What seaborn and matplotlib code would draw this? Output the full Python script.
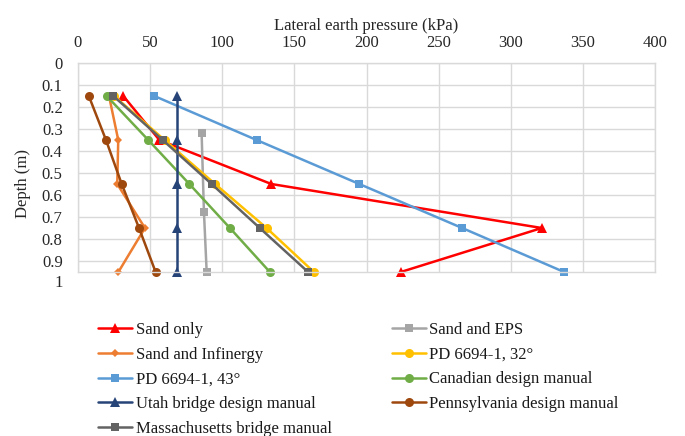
import numpy as np
import pandas as pd
import matplotlib
matplotlib.use("Agg")
import matplotlib.pyplot as plt
import seaborn as sns

# Depths of the measurement levels (m)
depth = [0.15, 0.35, 0.55, 0.75, 0.95]
depth_eps = [0.32, 0.675, 0.95]

# Lateral earth pressure for each case (kPa)
sand_only = [31.4, 56.4, 134.0, 321.5, 223.8]
sand_eps = [85.7, 87.3, 89.2]
sand_infinergy = [21.5, 27.9, 27.2, 46.4, 28.0]
pd_32 = [25.0, 60.0, 95.0, 130.7, 163.5]
pd_43 = [52.9, 123.8, 195.0, 266.3, 337.0]
canadian = [19.9, 48.7, 77.2, 105.3, 133.0]
utah = [68.4, 68.4, 68.4, 68.4, 68.4]
pennsylvania = [7.5, 19.4, 30.3, 42.3, 53.8]
massachusetts = [24.5, 58.7, 92.6, 126.0, 159.5]

x_ticks = [0, 50, 100, 150, 200, 250, 300, 350, 400]
y_ticks = [0, 0.1, 0.2, 0.3, 0.4, 0.5, 0.6, 0.7, 0.8, 0.9, 1]

series = [
    ("Sand only", depth, sand_only, "#FF0000", "^", 6.5),
    ("Sand and EPS", depth_eps, sand_eps, "#A5A5A5", "s", 6),
    ("Sand and Infinergy", depth, sand_infinergy, "#ED7D31", "D", 4.5),
    ("PD 6694-1, 32°", depth, pd_32, "#FFC000", "o", 6.5),
    ("PD 6694-1, 43°", depth, pd_43, "#5B9BD5", "s", 6),
    ("Canadian design manual", depth, canadian, "#70AD47", "o", 6.5),
    ("Utah bridge design manual", depth, utah, "#264478", "^", 6.5),
    ("Pennsylvania design manual", depth, pennsylvania, "#9E480E", "o", 6.5),
    ("Massachusetts bridge manual", depth, massachusetts, "#636363", "s", 6),
]

sns.set_theme(style="whitegrid")
plt.rcParams["font.family"] = ["Liberation Serif", "DejaVu Serif"]

FS = 12
TXT = "#262626"

fig = plt.figure(figsize=(6.85, 4.36), dpi=100)
ax = fig.add_axes([78 / 685, 1 - 272 / 436, (655 - 78) / 685, (272 - 63) / 436])

handles = []
for name, d, vals, color, marker, ms in series:
    df = pd.DataFrame({"pressure": vals, "depth": d})
    sns.lineplot(data=df, x="pressure", y="depth", sort=False, estimator=None,
                 color=color, marker=marker, markersize=ms, markeredgewidth=0,
                 linewidth=1.8, ax=ax, label=name, legend=False)
    line = ax.lines[-1]
    line.set_clip_on(False)
    handles.append(line)

ax.set_xlim(0, 400)
ax.set_ylim(0.95, 0)
ax.set_xticks(x_ticks)
ax.set_yticks(y_ticks[:-1])
ax.set_yticklabels([f"{t:g}" for t in y_ticks[:-1]])

ax.xaxis.tick_top()
ax.xaxis.set_label_position("top")
ax.tick_params(axis="x", length=0, labelsize=FS, colors=TXT, pad=8.5)
ax.tick_params(axis="y", length=0, labelsize=FS, colors=TXT, pad=11)

# last depth label sits just below the lowest level
ylab_x = -(11 / 72 * 100) / 577
ax.text(ylab_x, 1.0, f"{y_ticks[-1]:g}", transform=ax.get_yaxis_transform(),
        ha="right", va="center", fontsize=FS, color=TXT)

ax.set_xlabel("Lateral earth pressure (kPa)", fontsize=FS, color=TXT, va="center")
ax.xaxis.set_label_coords(0.5, 1 + (63 - 26) / 209)
ax.set_ylabel("Depth (m)", fontsize=FS, color=TXT, va="center")
ax.yaxis.set_label_coords((23 - 78) / 577, 1 - (183 - 63) / 209)

ax.grid(True, color="#D9D9D9", linewidth=1)
for s in ax.spines.values():
    s.set_color("#D9D9D9")
    s.set_linewidth(1)

# legend in two columns, filled row by row
order = [0, 2, 4, 6, 8, 1, 3, 5, 7]
leg = fig.legend([handles[i] for i in order], [series[i][0] for i in order],
                 loc="upper left", bbox_to_anchor=(98 / 685, 1 - 322 / 436),
                 ncol=2, frameon=False, fontsize=FS, handlelength=2.05,
                 handletextpad=0.2, columnspacing=3.6, labelspacing=0.52,
                 borderaxespad=0, borderpad=0)
for t in leg.get_texts():
    t.set_color("#1a1a1a")

fig.savefig("out.png", dpi=100)
